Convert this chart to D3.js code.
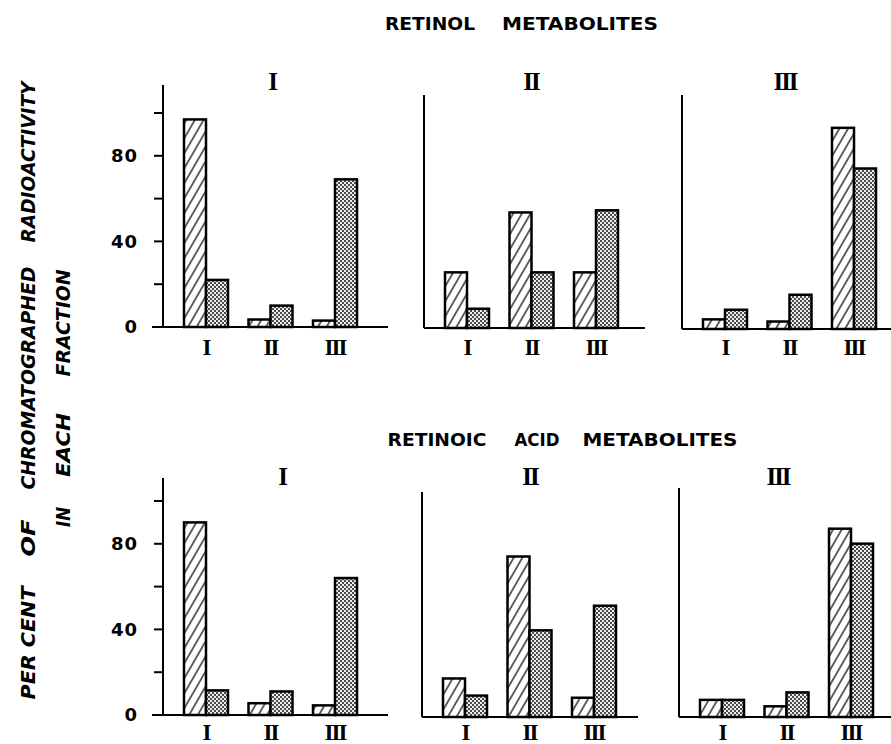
<!DOCTYPE html>
<html>
<head>
<meta charset="utf-8">
<script src="https://cdn.jsdelivr.net/npm/d3@7"></script>
<style>
  body { margin: 0; background: #fff; }
  svg { display: block; }
  .title { font-family: "DejaVu Sans", sans-serif; font-weight: bold; font-size: 17px; }
  .ylab { font-family: "DejaVu Sans", sans-serif; font-weight: bold; font-style: italic; font-size: 19px; }
  .tick { font-family: "DejaVu Sans", sans-serif; font-weight: bold; font-size: 18px; letter-spacing: 1px; }
  .roman { font-family: "Liberation Serif", serif; font-weight: bold; font-size: 23px; letter-spacing: -2px; }
  .pnum { font-family: "Liberation Serif", serif; font-weight: bold; font-size: 25px; letter-spacing: -2px; }
</style>
</head>
<body>
<script>

// fractions on the x axis and the panel numbers
var fractions = ["I", "II", "III"];
var panels = ["I", "II", "III"];

// per cent per fraction, one row per panel (hatched and dotted bars)
var retinolHatched = [[97, 3.5, 3], [26, 54, 26], [4.5, 3.5, 94]];
var retinolDotted  = [[22, 10, 69], [9, 26, 55], [9, 16, 75]];
var acidHatched    = [[90, 5.5, 4.5], [18, 75, 9], [8, 5, 88]];
var acidDotted     = [[11.5, 11, 64], [10, 40.5, 52], [8, 11.5, 81]];

// y axis ticks and the ones that get a label
var yTicks = [0, 20, 40, 60, 80, 100];
var yTickLabels = [0, 40, 80];

var svg = d3.select("body").append("svg")
    .attr("width", 891)
    .attr("height", 744);

// fill patterns
var defs = svg.append("defs");
var hatch = defs.append("pattern")
    .attr("id", "hatch")
    .attr("patternUnits", "userSpaceOnUse")
    .attr("width", 7.5).attr("height", 7.5)
    .attr("patternTransform", "rotate(30)");
hatch.append("rect").attr("width", 7.5).attr("height", 7.5).attr("fill", "#fff");
hatch.append("line")
    .attr("x1", 3.75).attr("x2", 3.75).attr("y1", 0).attr("y2", 7.5)
    .attr("stroke", "#111").attr("stroke-width", 1.3);

var dots = defs.append("pattern")
    .attr("id", "dots")
    .attr("patternUnits", "userSpaceOnUse")
    .attr("width", 4).attr("height", 4);
dots.append("rect").attr("width", 4).attr("height", 4).attr("fill", "#eee");
dots.append("rect").attr("width", 2).attr("height", 2).attr("fill", "#4a4a4a");
dots.append("rect").attr("x", 2).attr("y", 2).attr("width", 2).attr("height", 2).attr("fill", "#4a4a4a");

// layout of the six panels: axis x, baseline y, top of axis, end of baseline
var rows = [
  {title: ["RETINOL", "METABOLITES"], titleX: [430, 580], titleW: [90, 156], titleY: 30,
   hatched: retinolHatched, dotted: retinolDotted, numY: 90, labY: 355,
   boxes: [{x: 163, base: 327, top: 85, end: 388, numX: 272},
           {x: 424, base: 328, top: 95, end: 645, numX: 531},
           {x: 682, base: 329, top: 95, end: 891, numX: 785}]},
  {title: ["RETINOIC", "ACID", "METABOLITES"], titleX: [437, 537, 660], titleW: [99, 45, 155], titleY: 446,
   hatched: acidHatched, dotted: acidDotted, numY: 485, labY: 740,
   boxes: [{x: 163, base: 715, top: 478, end: 388, numX: 282},
           {x: 422, base: 717, top: 492, end: 638, numX: 530},
           {x: 679, base: 717, top: 488, end: 891, numX: 778}]}
];

var barW = 22;
var xScale = d3.scalePoint().domain(fractions).range([43, 172]);

rows.forEach(function(row) {

  // row title
  row.title.forEach(function(word, i) {
    svg.append("text")
       .attr("class", "title")
       .attr("x", row.titleX[i] - row.titleW[i] / 2)
       .attr("y", row.titleY)
       .attr("textLength", row.titleW[i])
       .attr("lengthAdjust", "spacingAndGlyphs")
       .text(word);
  });

  row.boxes.forEach(function(b, p) {
    var yScale = d3.scaleLinear().domain([0, 100]).range([b.base, b.base - 214]);
    var g = svg.append("g");

    // panel number
    g.append("text")
     .attr("class", "pnum")
     .attr("x", b.numX)
     .attr("y", row.numY)
     .attr("text-anchor", "middle")
     .text(panels[p]);

    // bars
    var data = fractions.map(function(f, i) {
      return {f: f, h: row.hatched[p][i], d: row.dotted[p][i]};
    });
    data.forEach(function(d) {
      var cx = b.x + xScale(d.f);
      g.append("rect")
       .attr("x", cx - barW).attr("width", barW)
       .attr("y", yScale(d.h)).attr("height", b.base - yScale(d.h))
       .attr("fill", "url(#hatch)").attr("stroke", "#000").attr("stroke-width", 2.5);
      g.append("rect")
       .attr("x", cx).attr("width", barW)
       .attr("y", yScale(d.d)).attr("height", b.base - yScale(d.d))
       .attr("fill", "url(#dots)").attr("stroke", "#000").attr("stroke-width", 2.5);
      g.append("text")
       .attr("class", "roman")
       .attr("x", cx)
       .attr("y", row.labY)
       .attr("text-anchor", "middle")
       .text(d.f);
    });

    // axes
    g.append("line")
     .attr("x1", b.x).attr("x2", b.x).attr("y1", b.top).attr("y2", b.base)
     .attr("stroke", "#000").attr("stroke-width", 2);
    g.append("line")
     .attr("x1", p === 0 ? b.x - 11 : b.x).attr("x2", b.end)
     .attr("y1", b.base).attr("y2", b.base)
     .attr("stroke", "#000").attr("stroke-width", 2.2);

    // only the first panel of a row has ticks and numbers
    if (p === 0) {
      g.selectAll(".tk").data(yTicks).enter().append("line")
       .attr("x1", b.x - 9).attr("x2", b.x)
       .attr("y1", function(d) { return yScale(d); })
       .attr("y2", function(d) { return yScale(d); })
       .attr("stroke", "#000").attr("stroke-width", 2);
      g.selectAll(".tl").data(yTickLabels).enter().append("text")
       .attr("class", "tick")
       .attr("x", 138)
       .attr("y", function(d) { return yScale(d); })
       .attr("dy", "0.36em")
       .attr("text-anchor", "end")
       .text(function(d) { return d; });
    }
  });
});

// y axis label, two rotated lines, word by word
var yLabel = [
  {t: "RADIOACTIVITY", c: 162, w: 161, x: 35},
  {t: "CHROMATOGRAPHED", c: 378, w: 223, x: 35},
  {t: "OF", c: 538, w: 37, x: 35},
  {t: "PER CENT", c: 643, w: 113, x: 35},
  {t: "FRACTION", c: 323, w: 107, x: 70},
  {t: "EACH", c: 445, w: 64, x: 70},
  {t: "IN", c: 517, w: 20, x: 70}
];
yLabel.forEach(function(w) {
  svg.append("text")
     .attr("class", "ylab")
     .attr("transform", "translate(" + w.x + "," + (w.c + w.w / 2) + ") rotate(-90)")
     .attr("textLength", w.w)
     .attr("lengthAdjust", "spacingAndGlyphs")
     .text(w.t);
});

</script>
</body>
</html>
